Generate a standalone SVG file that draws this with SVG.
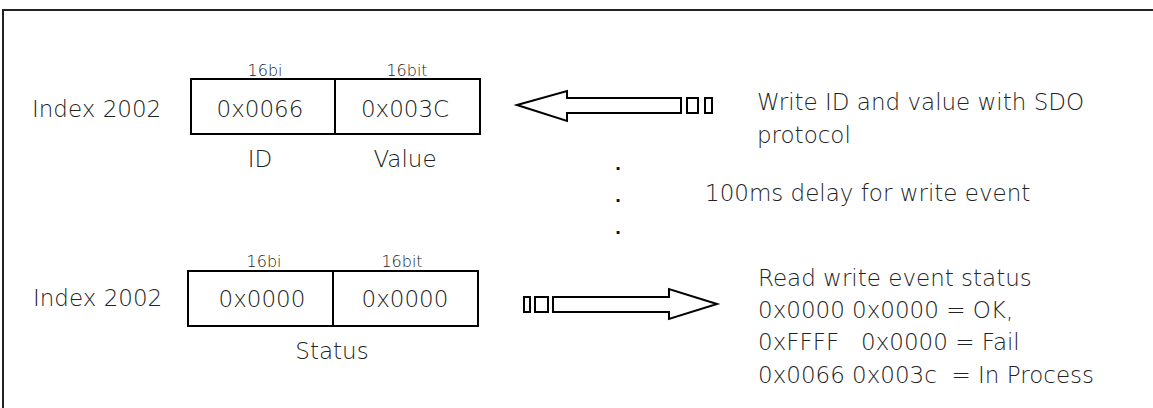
<svg xmlns="http://www.w3.org/2000/svg" width="1153" height="408" viewBox="0 0 1153 408">
<style>
text{font-family:"DejaVu Sans","Liberation Sans",sans-serif;fill:#222;font-weight:200}
.m{font-size:23px}
.s{font-size:16px}
.c{text-anchor:middle}
.dot{font-weight:700;fill:#111}
.box{fill:#fff;stroke:#000;stroke-width:2}
.arr{fill:#fff;stroke:#000;stroke-width:2;stroke-linejoin:miter}
</style>
<rect width="1153" height="408" fill="#fff"/>
<path d="M3,408 V10 H1153" fill="none" stroke="#222" stroke-width="2"/>

<g id="write-register">
<text class="m" x="32" y="117">Index 2002</text>
<rect class="box" x="191" y="79" width="144" height="55"/>
<rect class="box" x="335" y="79" width="145" height="55"/>
<text class="s c" x="265" y="76">16bi</text>
<text class="s c" x="407" y="76">16bit</text>
<text class="m c" x="260" y="117">0x0066</text>
<text class="m c" x="405" y="117">0x003C</text>
<text class="m c" x="260" y="167">ID</text>
<text class="m c" x="405" y="167">Value</text>
</g>

<g id="status-register">
<text class="m" x="33" y="306">Index 2002</text>
<rect class="box" x="188" y="271" width="145" height="55"/>
<rect class="box" x="333" y="271" width="145" height="55"/>
<text class="s c" x="264" y="267">16bi</text>
<text class="s c" x="402" y="267">16bit</text>
<text class="m c" x="262" y="307">0x0000</text>
<text class="m c" x="405" y="307">0x0000</text>
<text class="m c" x="332" y="359">Status</text>
</g>

<g id="connectors">
<path class="arr" d="M517,105 L567,91 L567,98 L681,98 L681,113 L567,113 L567,121 Z"/>
<rect class="arr" x="687" y="98" width="11" height="15"/>
<rect class="arr" x="705" y="98" width="7" height="15"/>
<path class="arr" d="M717,304 L669,289 L669,297 L553,297 L553,312 L669,312 L669,319 Z"/>
<rect class="arr" x="535" y="297" width="13" height="15"/>
<rect class="arr" x="524" y="297" width="6" height="15"/>
</g>

<g id="notes">
<text class="m" x="757" y="110">Write ID and value with SDO</text>
<text class="m" x="757" y="143">protocol</text>
<text class="s dot" x="615" y="170">.</text>
<text class="s dot" x="615" y="202">.</text>
<text class="s dot" x="615" y="234">.</text>
<text class="m" x="705" y="201">100ms delay for write event</text>
<text class="m" x="758" y="286">Read write event status</text>
<text class="m" x="758" y="318">0x0000 0x0000 = OK,</text>
<text class="m" x="758" y="350" xml:space="preserve">0xFFFF   0x0000 = Fail</text>
<text class="m" x="758" y="383" xml:space="preserve">0x0066 0x003c  = In Process</text>
</g>
</svg>
